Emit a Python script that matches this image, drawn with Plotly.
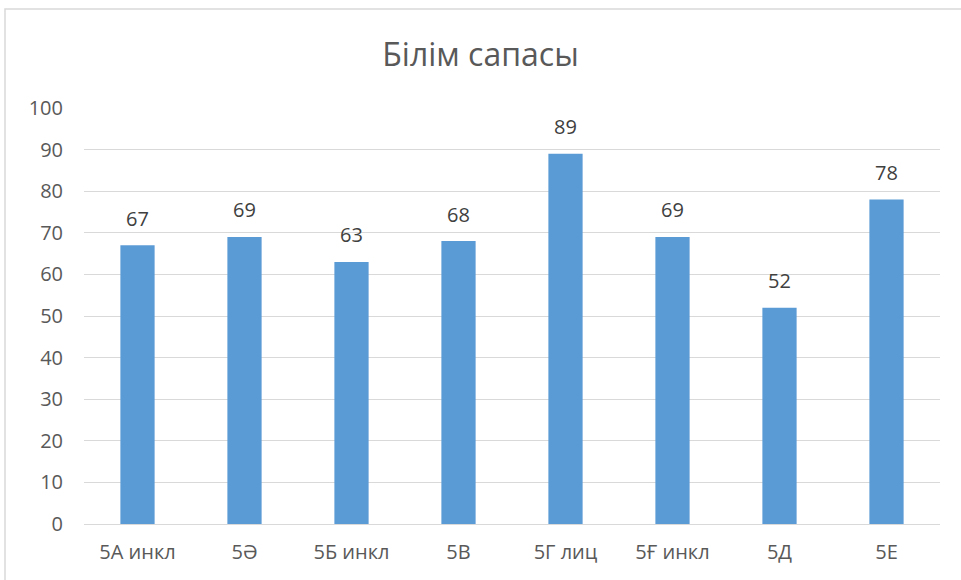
import plotly.graph_objects as go

categories = ["5А инкл", "5Ә", "5Б инкл", "5В", "5Г лиц", "5Ғ инкл", "5Д", "5Е"]
values = [67, 69, 63, 68, 89, 69, 52, 78]
y_ticks = [0, 10, 20, 30, 40, 50, 60, 70, 80, 90, 100]
title_text = "Білім сапасы"

FONT = "Open Sans"
bar_color = "#5B9BD5"
grid_color = "#D9D9D9"

fig = go.Figure()
fig.add_trace(go.Bar(
    x=categories, y=values,
    marker=dict(color=bar_color, line=dict(width=0)),
    width=0.32,
    hoverinfo="x+y",
))

for c, v in zip(categories, values):
    fig.add_annotation(
        x=c, y=v, text=str(v), showarrow=False,
        yanchor="middle", yshift=27,
        font=dict(family=FONT, size=20, color="#404040"),
    )

fig.update_layout(
    width=961, height=580,
    paper_bgcolor="white", plot_bgcolor="white",
    margin=dict(l=84, r=21, t=108, b=56, autoexpand=False),
    title=dict(text=title_text, x=0.5, xanchor="center", y=0.905, yanchor="middle",
               font=dict(family=FONT, size=32, color="#595959")),
    showlegend=False,
    xaxis=dict(
        type="category",
        showgrid=False, showline=True, linecolor=grid_color, linewidth=1,
        ticks="", tickfont=dict(family=FONT, size=20, color="#595959"),
        ticklabelstandoff=10,
    ),
    yaxis=dict(
        range=[0, 100], tickvals=y_ticks,
        showgrid=True, gridcolor=grid_color, gridwidth=1,
        zeroline=False, showline=False, ticks="",
        tickfont=dict(family=FONT, size=20, color="#595959"),
        ticklabelstandoff=20,
    ),
    shapes=[dict(type="rect", xref="paper", yref="paper",
                 x0=(5 - 84) / 856, x1=1.1, y0=-0.2, y1=(524 - 9) / 416,
                 line=dict(color="#D9D9D9", width=1.5), fillcolor="rgba(0,0,0,0)",
                 layer="below")],
)

fig.write_html("out.html", config={"displayModeBar": False},
               post_script="document.body.style.margin='0';document.body.style.padding='0';")
